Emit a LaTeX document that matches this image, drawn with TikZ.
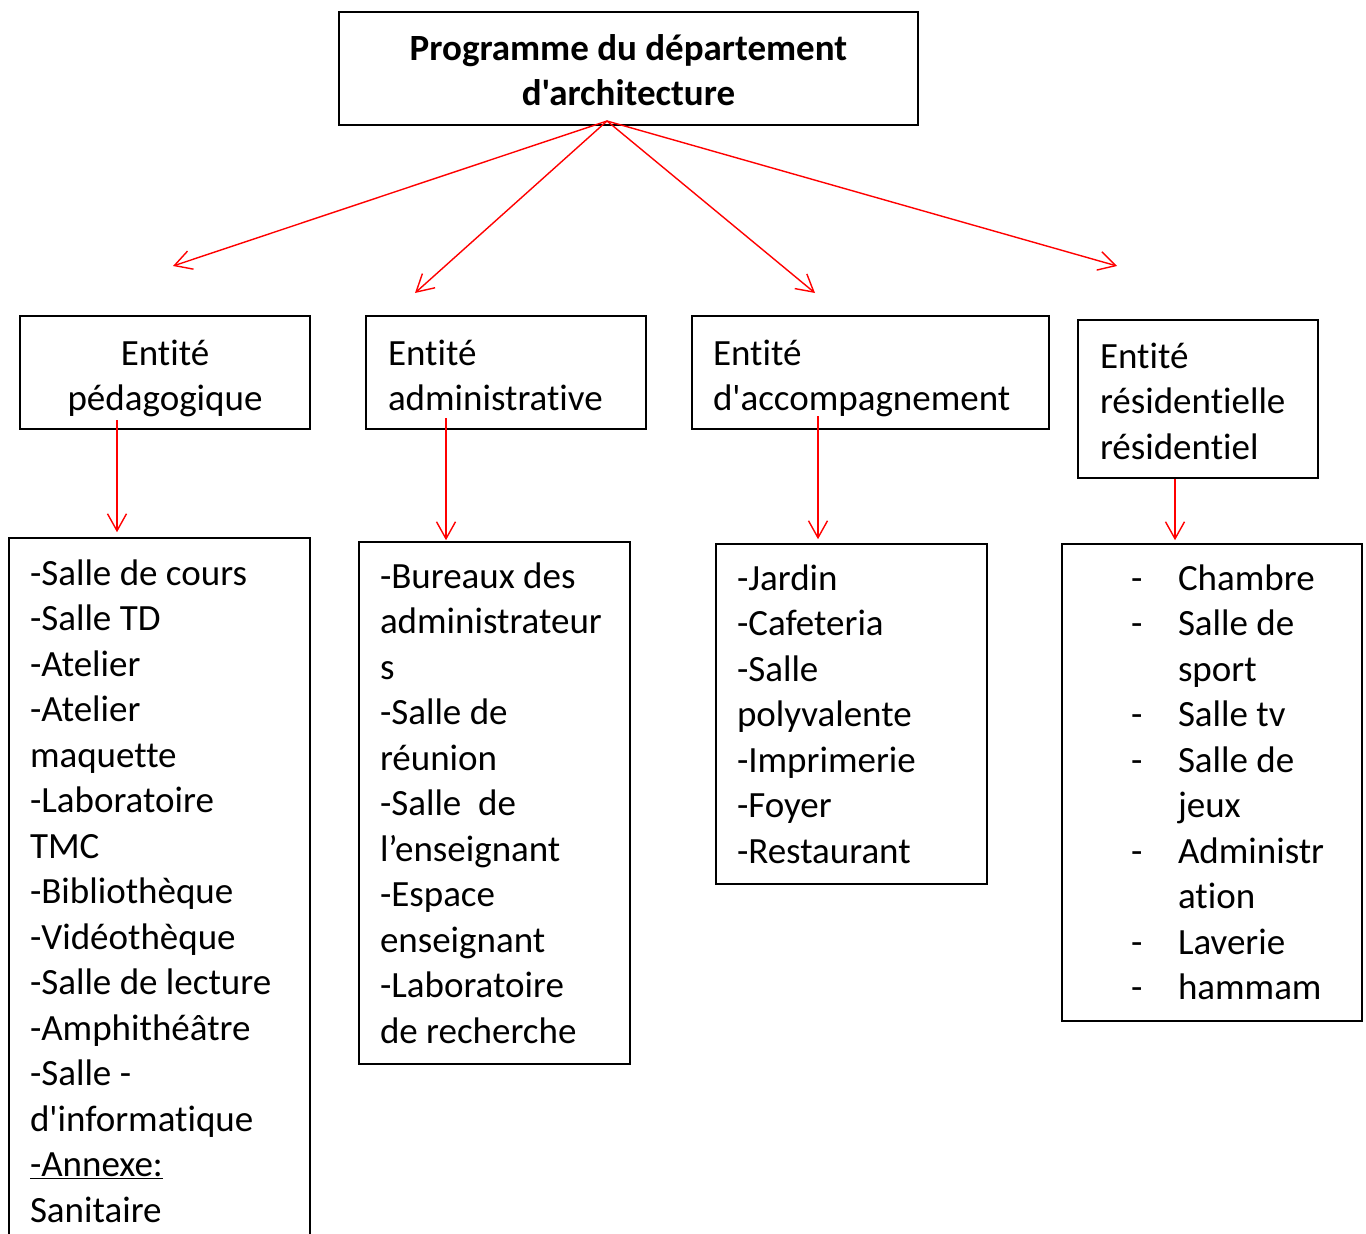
\documentclass[tikz,border=0pt]{standalone}
\usepackage{fontspec}
\setmainfont{Carlito}[Ligatures={TeXOff,NoCommon}]
\usetikzlibrary{arrows.meta,calc}
\newcommand{\police}{\fontsize{37}{45.5}\selectfont}
\newcommand{\tiret}[1]{\hspace*{48pt}\makebox[47pt][l]{-}#1}
\newcommand{\suite}[1]{\hspace*{95pt}#1}

\begin{document}
\begin{tikzpicture}[x=1pt,y=-1pt,
 b/.style={draw,line width=1.6pt,align=flush left,inner xsep=21pt,inner ysep=0pt,font=\police},
 a/.style={-{Straight Barb[length=17pt,width=19pt]},line width=1.4pt,draw=red}]
\useasboundingbox (0,0) rectangle (1366,1234);
\node[b,align=flush center,font=\fontsize{37}{45}\selectfont\bfseries,minimum width=579,minimum height=113] (titre) at (628.5,68.5) {\rule{0pt}{29pt}Programme du département\\d'architecture};
\node[b,align=flush center,text width=248,minimum width=290,minimum height=113] (e1) at (165,372.5) {\rule{0pt}{37.5pt}Entité\\pédagogique};
\node[b,text width=236,minimum width=280,minimum height=113] (e2) at (506,372.5) {\rule{0pt}{31.5pt}Entité\\administrative};
\node[b,text width=315,minimum width=357,minimum height=113] (e3) at (870.5,372.5) {\rule{0pt}{37.5pt}Entité\\d'accompagnement};
\node[b,text width=196,minimum width=240,minimum height=158] (e4) at (1198,399) {\rule{0pt}{29.5pt}Entité\\résidentielle\\résidentiel};
\node[b,text width=259,minimum width=301,minimum height=706] (l1) at (159.5,891) {-Salle de cours\\-Salle TD\\-Atelier\\-Atelier\\maquette\\-Laboratoire\\TMC\\-Bibliothèque\\-Vidéothèque\\-Salle de lecture\\-Amphithéâtre\\-Salle -\\d'informatique\\\underline{-Annexe:}\\Sanitaire};
\node[b,text width=229,minimum width=271,minimum height=522] (l2) at (494.5,803) {-Bureaux des\\administrateur\\s\\-Salle de\\réunion\\-Salle\ \ de\\l’enseignant\\-Espace\\enseignant\\-Laboratoire\\de recherche};
\node[b,text width=229,minimum width=271,minimum height=340] (l3) at (851.5,714) {-Jardin\\-Cafeteria\\-Salle\\polyvalente\\-Imprimerie\\-Foyer\\-Restaurant};
\node[b,text width=258,minimum width=300,minimum height=477] (l4) at (1212,782.5) {\tiret{Chambre}\\\tiret{Salle de}\\\suite{sport}\\\tiret{Salle tv}\\\tiret{Salle de}\\\suite{jeux}\\\tiret{Administr}\\\suite{ation}\\\tiret{Laverie}\\\tiret{hammam}};
\coordinate (o) at (607,121);
\coordinate (q1) at (173,266);\coordinate (q2) at (415,293);
\coordinate (q3) at (815,293);\coordinate (q4) at (1117,266);
\coordinate (p1) at (117,420);\coordinate (p2) at (446,418);
\coordinate (p3) at (818,416);\coordinate (p4) at (1175,479);
\foreach \q in {q1,q2,q3,q4} \draw[a] (o) -- (\q);
\draw[a] (p1) -- ($(p1 |- l1.north)+(0,-5)$);
\draw[a] (p2) -- ($(p2 |- l2.north)+(0,-1)$);
\draw[a] (p3) -- ($(p3 |- l3.north)+(0,-4)$);
\draw[a] (p4) -- ($(p4 |- l4.north)+(0,-3)$);
\end{tikzpicture}
\end{document}
